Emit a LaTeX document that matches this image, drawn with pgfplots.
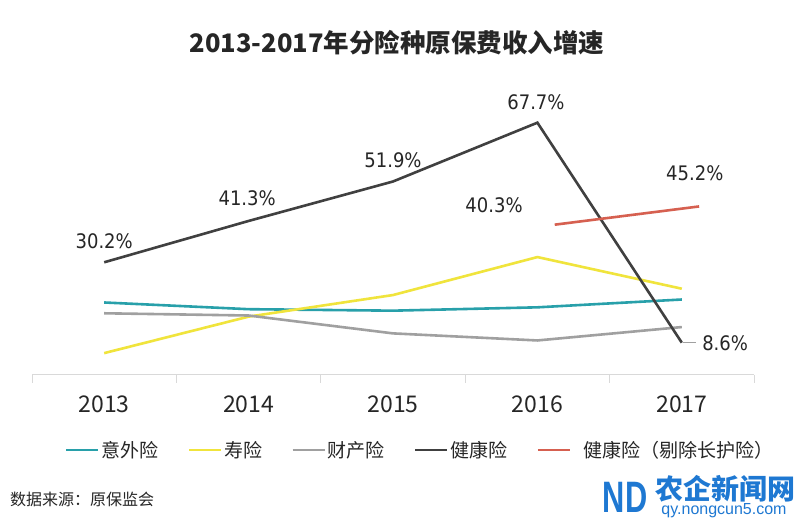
\documentclass[border=0pt]{standalone}
\usepackage{pgfplots}
\pgfplotsset{compat=1.18}
\usepackage{fontspec}
\setmainfont{Noto Sans CJK SC}
\newfontfamily\numfont[FakeStretch=0.9]{DejaVu Sans}
\newfontfamily\logofont{Liberation Sans}
\definecolor{cteal}{RGB}{40,160,170}
\definecolor{cyellow}{RGB}{240,228,60}
\definecolor{cgray}{RGB}{160,160,160}
\definecolor{cdark}{RGB}{64,64,64}
\definecolor{cred}{RGB}{214,96,80}
\definecolor{caxis}{RGB}{217,217,217}
\definecolor{ctext}{RGB}{38,38,38}
\definecolor{cblue}{RGB}{30,120,210}
\begin{document}
\begin{tikzpicture}[x=1bp,y=1bp]
\path[fill=white] (0,0) rectangle (800,-522);
\node[font=\fontsize{25.5bp}{28bp}\selectfont\bfseries, text=ctext] at (397,-43) {2013-2017年分险种原保费收入增速};
\begin{axis}[
  at={(32bp,-374.7bp)}, anchor=south west,
  scale only axis, width=722bp, height=279.2bp,
  xmin=2012.5, xmax=2017.5, ymin=0, ymax=75,
  axis x line=bottom, axis y line=none,
  x axis line style={-, draw=caxis, line width=1bp},
  xtick={2013,2014,2015,2016,2017},
  xticklabels={2013,2014,2015,2016,2017},
  major tick length=0pt,
  minor xtick={2012.5,2013.5,2014.5,2015.5,2016.5,2017.5},
  minor x tick style={draw=caxis, line width=1bp},
  tick align=outside, minor tick length=8bp,
  xticklabel style={font=\fontsize{23bp}{26bp}\selectfont, text=ctext, anchor=base, yshift=-38bp},
  clip=false,
  legend columns=5,
  legend style={draw=none, fill=none, at={(0.0457,-0.27)}, anchor=west,
    font=\fontsize{19bp}{22bp}\selectfont, text=ctext, inner sep=0pt,
    /tikz/every even column/.append style={column sep=27bp}},
  legend image code/.code={\draw[#1] (0bp,0bp) -- (32bp,0bp);},
  every axis plot/.append style={line width=2.6bp},
]
\addplot[cteal] coordinates {(2013,19.4) (2014,17.6) (2015,17.2) (2016,18.1) (2017,20.2)};
\addlegendentry{意外险}
\addplot[cyellow] coordinates {(2013,5.8) (2014,15.6) (2015,21.4) (2016,31.6) (2017,23.1)};
\addlegendentry{寿险}
\addplot[cgray] coordinates {(2013,16.5) (2014,15.9) (2015,11.1) (2016,9.2) (2017,12.8)};
\addlegendentry{财产险}
\addplot[cdark] coordinates {(2013,30.2) (2014,41.3) (2015,51.9) (2016,67.7) (2017,8.6)};
\addlegendentry{健康险}
\addplot[cred] coordinates {(2016.12,40.3) (2017.12,45.2)};
\addlegendentry{\hspace{10bp}健康险（剔除长护险）}
\draw[cgray, line width=0.8bp] (axis cs:2017.01,8.6) -- (axis cs:2017.1,8.6);
\begin{scope}[every node/.style={font=\numfont\fontsize{20bp}{22bp}\selectfont, text=ctext}]
\node at (axis cs:2013.0,35.9) {30.2\%};
\node at (axis cs:2013.99,47.47) {41.3\%};
\node at (axis cs:2015.0,57.67) {51.9\%};
\node at (axis cs:2015.99,73.33) {67.7\%};
\node at (axis cs:2015.70,45.59) {40.3\%};
\node at (axis cs:2017.09,54.18) {45.2\%};
\node at (axis cs:2017.30,8.52) {8.6\%};
\end{scope}
\end{axis}
\node[anchor=west, font=\fontsize{16bp}{18bp}\selectfont, text=ctext, inner sep=0pt] at (10,-499) {数据来源：原保监会};
\node[font=\logofont\bfseries\fontsize{44bp}{44bp}\selectfont, text=cblue, xscale=0.7, inner sep=0pt] at (625,-497) {ND};
\node[font=\fontsize{28bp}{30bp}\selectfont\bfseries, text=cblue, inner sep=0pt] at (725,-489) {农企新闻网};
\node[font=\logofont\fontsize{16bp}{18bp}\selectfont, text=cblue, inner sep=0pt] at (724,-511) {qy.nongcun5.com};
\end{tikzpicture}
\end{document}
